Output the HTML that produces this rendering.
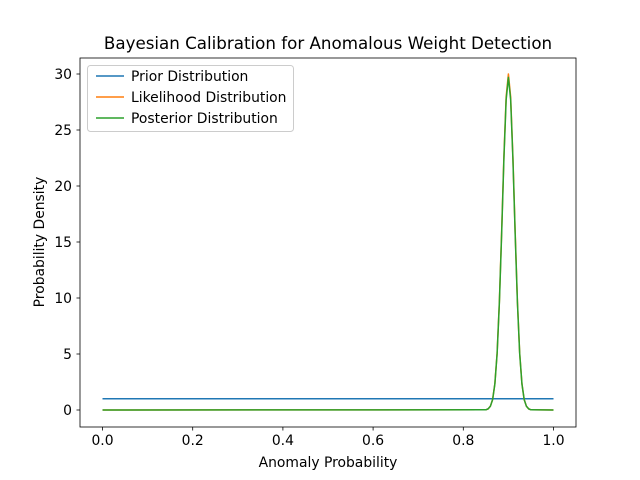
<!DOCTYPE html>
<html><head><meta charset="utf-8"><style>body{margin:0;background:#fff}svg{display:block;font-family:"DejaVu Sans","Liberation Sans",sans-serif}</style></head>
<body>
<svg id="chart" width="640" height="480" viewBox="0 0 640 480">
<rect width="640" height="480" fill="#fff"/>
<text x="328" y="49" text-anchor="middle" font-size="16.7">Bayesian Calibration for Anomalous Weight Detection</text>
<g id="ticks"></g>
<g id="series"></g>
<rect x="80" y="58" width="496" height="369" fill="none" stroke="#000" stroke-width="0.8"/>
<text x="328" y="467" text-anchor="middle" font-size="13.9">Anomaly Probability</text>
<text transform="translate(44,242) rotate(-90)" text-anchor="middle" font-size="13.9">Probability Density</text>
<g>
<rect x="87.5" y="65.5" width="206" height="66" rx="3" fill="#fff" fill-opacity="0.8" stroke="#ccc"/>
<g><line x1="96" y1="76" x2="124" y2="76" stroke="#1f77b4" stroke-width="1.5"/><text x="131" y="81" font-size="13.9">Prior Distribution</text></g>
<g><line x1="96" y1="97" x2="124" y2="97" stroke="#ff7f0e" stroke-width="1.5"/><text x="131" y="102" font-size="13.9">Likelihood Distribution</text></g>
<g><line x1="96" y1="118" x2="124" y2="118" stroke="#2ca02c" stroke-width="1.5"/><text x="131" y="123" font-size="13.9">Posterior Distribution</text></g>
</g>
</svg>
<script>
const xValues = [0, 0.85, 0.855, 0.86, 0.865, 0.87, 0.875, 0.88, 0.885, 0.89, 0.895, 0.9, 0.905, 0.91, 0.915, 0.92, 0.925, 0.93, 0.935, 0.94, 0.945, 0.95, 1.0];
const priorValues = [1, 1, 1, 1, 1, 1, 1, 1, 1, 1, 1, 1, 1, 1, 1, 1, 1, 1, 1, 1, 1, 1, 1];
const likelihoodValues = [0, 0.02, 0.1, 0.33, 0.94, 2.35, 5.1, 9.7, 15.9, 22.6, 27.96, 30, 27.96, 22.6, 15.9, 9.7, 5.1, 2.35, 0.94, 0.33, 0.1, 0.02, 0];
const posteriorValues = [0, 0.02, 0.1, 0.33, 0.93, 2.33, 5.05, 9.6, 15.7, 22.4, 27.7, 29.7, 27.7, 22.4, 15.7, 9.6, 5.05, 2.33, 0.93, 0.33, 0.1, 0.02, 0];
const xTicks = [0, 0.2, 0.4, 0.6, 0.8, 1.0];
const xTickLabels = ["0.0", "0.2", "0.4", "0.6", "0.8", "1.0"];
const yTicks = [0, 5, 10, 15, 20, 25, 30];
const yTickLabels = ["0", "5", "10", "15", "20", "25", "30"];

const NS = "http://www.w3.org/2000/svg";
const xs = v => 102.5 + v * 451;
const ys = v => 410 - v * 11.2;
const tg = document.getElementById('ticks');
xTicks.forEach((t, i) => {
  const l = document.createElementNS(NS, 'line');
  l.setAttribute('x1', xs(t)); l.setAttribute('x2', xs(t));
  l.setAttribute('y1', 427); l.setAttribute('y2', 430.5);
  l.setAttribute('stroke', '#000'); l.setAttribute('stroke-width', '0.8');
  
  
  tg.appendChild(l);
  const tx = document.createElementNS(NS, 'text');
  tx.setAttribute('x', xs(t)); tx.setAttribute('y', 445);
  tx.setAttribute('text-anchor', 'middle'); tx.setAttribute('font-size', '13.9');
  tx.textContent = xTickLabels[i];
  
  
  tg.appendChild(tx);
});
yTicks.forEach((t, i) => {
  const l = document.createElementNS(NS, 'line');
  l.setAttribute('x1', 76.5); l.setAttribute('x2', 80);
  l.setAttribute('y1', ys(t)); l.setAttribute('y2', ys(t));
  l.setAttribute('stroke', '#000'); l.setAttribute('stroke-width', '0.8');
  
  
  tg.appendChild(l);
  const tx = document.createElementNS(NS, 'text');
  tx.setAttribute('x', 72); tx.setAttribute('y', ys(t) + 5);
  tx.setAttribute('text-anchor', 'end'); tx.setAttribute('font-size', '13.9');
  tx.textContent = yTickLabels[i];
  
  
  tg.appendChild(tx);
});
const sg = document.getElementById('series');
function drawLine(vals, color, name) {
  const p = document.createElementNS(NS, 'polyline');
  p.setAttribute('points', xValues.map((x, i) => xs(x) + ',' + ys(vals[i])).join(' '));
  p.setAttribute('fill', 'none'); p.setAttribute('stroke', color);
  p.setAttribute('stroke-width', '1.5'); p.setAttribute('stroke-linejoin', 'round');
  
  
  sg.appendChild(p);
}
drawLine(priorValues, '#1f77b4', 'prior-line');
drawLine(likelihoodValues, '#ff7f0e', 'likelihood-line');
drawLine(posteriorValues, '#2ca02c', 'posterior-line');
</script>
</body></html>
